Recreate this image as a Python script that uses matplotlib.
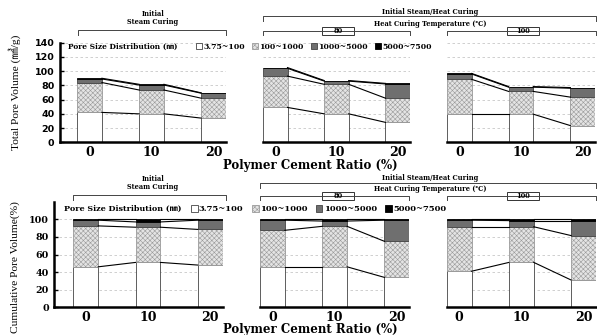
import numpy as np
import matplotlib.pyplot as plt
from matplotlib.patches import Patch, Rectangle
from matplotlib.lines import Line2D

W, H = 597, 335

ratios = ['0', '10', '20']
size_labels = ['3.75~100', '100~1000', '1000~5000', '5000~7500']

# total pore volume (mm3/g) -> 9 bars: steam curing, 80C, 100C  x  PCR 0/10/20
tot_small = [42, 40, 34, 49, 40, 28, 39.5, 39.5, 23.5]
tot_mid = [42, 33.5, 28, 44, 41.5, 34, 49, 32, 40]
tot_large = [5, 7, 7, 11, 4.5, 20, 7.5, 6, 12.5]
tot_xl = [1, 1, 0.5, 1, 0.8, 0.8, 0.8, 0.8, 0.9]

# cumulative pore volume (%)
cum_small = [46, 51, 48, 46, 46, 34, 41, 51, 31]
cum_mid = [46.5, 40, 40.5, 41.5, 46, 41, 50.5, 40.5, 50.5]
cum_large = [6.5, 6, 10.5, 11.5, 6, 24, 7.5, 7, 17]
cum_xl = [1, 3, 1, 1, 2, 1, 1, 1.5, 1.5]

plt.rcParams['hatch.linewidth'] = 0.4
face = ['white', '#e4e4e4', '#6f6f6f', 'black']
edge = ['#444444', '#9a9a9a', '#444444', 'black']
hatch = [None, 'xxxxxxx', None, None]

SERIF = ['DejaVu Serif', 'Noto Sans CJK JP']
CJK_TIMES = ['Liberation Serif', 'Noto Sans CJK JP']


def px(x, y):
    return x / W, 1 - y / H


fig = plt.figure(figsize=(W / 100, H / 100), dpi=100)


def bracket(x0, x1, y, drop):
    xs = [px(x0, y + drop)[0], px(x0, y)[0], px(x1, y)[0], px(x1, y + drop)[0]]
    ys = [px(x0, y + drop)[1], px(x0, y)[1], px(x1, y)[1], px(x1, y + drop)[1]]
    fig.add_artist(Line2D(xs, ys, color='#444444', lw=0.7))


def label_box(x0, x1, y0, y1, txt):
    a = px(x0, y1)
    fig.add_artist(Rectangle(a, (x1 - x0) / W, (y1 - y0) / H, facecolor='white',
                             edgecolor='#333333', lw=0.7))
    c = px((x0 + x1) / 2, (y0 + y1) / 2)
    fig.text(c[0], c[1], txt, ha='center', va='center', fontsize=4.8,
             fontweight='bold', family=SERIF)


def panel(rows, boxes, top, bot, ylim, yticks, yfont, ylabel, ylab_y):
    axes = []
    for g, (x0, x1, xl) in enumerate(boxes):
        l, b = px(x0, bot)
        ax = fig.add_axes([l, b, (x1 - x0) / W, (bot - top) / H])
        x = np.arange(3)
        base = np.zeros(3)
        for k, vals in enumerate(rows):
            v = np.array(vals[3 * g:3 * g + 3], dtype=float)
            ax.bar(x, v, 0.4, bottom=base, color=face[k], edgecolor=edge[k],
                   hatch=hatch[k], lw=0.6, zorder=2)
            base = base + v
            for i in range(2):
                ax.plot([i + 0.2, i + 0.8], [base[i], base[i + 1]], color='black',
                        lw=0.8, zorder=3)
        ax.set_xlim(xl, 2.2)
        ax.set_ylim(*ylim)
        ax.set_yticks(yticks)
        ax.set_xticks(x)
        ax.set_xticklabels(ratios, fontsize=9, fontweight='bold', family='DejaVu Serif')
        ax.tick_params(axis='x', length=0, pad=3)
        ax.yaxis.grid(True, ls=(0, (3, 3)), color='#c8c8c8', lw=0.6)
        ax.set_axisbelow(True)
        for s in ['top', 'right']:
            ax.spines[s].set_visible(False)
        ax.spines['bottom'].set_linewidth(1.8)
        if g == 0:
            ax.spines['left'].set_linewidth(1.8)
            ax.tick_params(axis='y', direction='in', length=3, width=1, pad=4)
            ax.set_yticklabels([str(t) for t in yticks], fontsize=6.8,
                               fontweight='bold', family=yfont)
        else:
            ax.spines['left'].set_visible(False)
            ax.tick_params(axis='y', length=0, labelleft=False)
        axes.append(ax)
    c = px(15, ylab_y)
    fig.text(c[0], c[1], ylabel, rotation=90, ha='center', va='center',
             fontsize=8.2, family=CJK_TIMES)
    return axes


# ---- top panel: total pore volume
panel([tot_small, tot_mid, tot_large, tot_xl],
      [(60, 226, -0.476), (263, 410, -0.2), (447, 595, -0.2)],
      42.7, 142.3, (0, 140), [0, 20, 40, 60, 80, 100, 120, 140],
      'DejaVu Sans', 'Total Pore Volume (㎣/g)', 92)

# ---- bottom panel: cumulative pore volume
panel([cum_small, cum_mid, cum_large, cum_xl],
      [(54.3, 222.7, -0.506), (260, 409.3, -0.2), (446.7, 596, -0.2)],
      201.7, 307.3, (0, 120), [0, 20, 40, 60, 80, 100],
      'DejaVu Serif', 'Cumulative Pore Volume(%)', 267)

for y in [165, 330]:
    c = px(310, y)
    fig.text(c[0], c[1], 'Polymer Cement Ratio (%)', ha='center', va='center',
             fontsize=8.5, fontweight='bold', family='DejaVu Serif')

# ---- headers
for dy, l1, sb, bb, b80, b100 in [
        (0, (78, 226), 29.5, 15.5, (263, 410), (447, 596)),
        (165, (73.3, 226), 29.5, 18.3, (260, 409.3), (446.7, 596))]:
    c = px(153, 14 + dy)
    fig.text(c[0], c[1], 'Initial', ha='center', va='center', fontsize=4.8,
             fontweight='bold', family=SERIF)
    c = px(153, 22.3 + dy)
    fig.text(c[0], c[1], 'Steam Curing', ha='center', va='center', fontsize=4.8,
             fontweight='bold', family=SERIF)
    bracket(l1[0], l1[1], sb + dy, 5)
    c = px(430, 12.5 + dy)
    fig.text(c[0], c[1], 'Initial Steam/Heat Curing', ha='center', va='center',
             fontsize=4.8, fontweight='bold', family=SERIF)
    bracket(b80[0], b100[1], bb + dy, 5)
    c = px(430, 24.3 + dy)
    fig.text(c[0], c[1], 'Heat Curing Temperature (℃)', ha='center', va='center',
             fontsize=4.8, fontweight='bold', family=SERIF)
    bracket(b80[0], b80[1], 30.8 + dy, 4.5)
    bracket(b100[0], b100[1], 30.8 + dy, 4.5)
    label_box(321.7, 354, 26.8 + dy, 35 + dy, '80')
    label_box(506.7, 539.3, 26.8 + dy, 35 + dy, '100')

# ---- legends
handles = [Patch(facecolor=face[k], edgecolor=edge[k], hatch=hatch[k], lw=0.6)
           for k in range(4)]
for (tx, ty, lx, fs, fl, cs) in [(68, 47, 196, 5.4, 5.6, 0.9),
                                 (64, 209.3, 191, 5.8, 6.0, 1.0)]:
    c = px(tx, ty)
    fig.text(c[0], c[1], 'Pore Size Distribution (㎚)', ha='left', va='center',
             fontsize=fs, fontweight='bold', family=SERIF)
    fig.legend(handles, size_labels, ncol=4, loc='center left',
               bbox_to_anchor=px(lx, ty), frameon=False,
               prop={'family': SERIF, 'weight': 'bold', 'size': fl},
               handlelength=0.8, handleheight=0.8, handletextpad=0.15,
               columnspacing=cs, borderpad=0, borderaxespad=0)

fig.savefig('out.png', dpi=100)
